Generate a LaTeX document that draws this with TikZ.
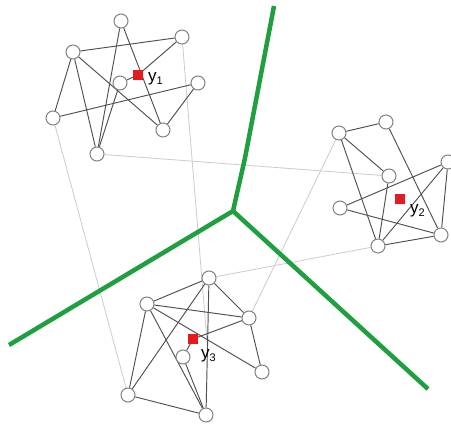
\documentclass[tikz,border=0pt]{standalone}
\usepackage{fontspec}
\setmainfont{Liberation Sans}
\pgfdeclarelayer{bg}
\pgfsetlayers{bg,main}
\definecolor{vgreen}{RGB}{30,160,65}
\definecolor{edgegray}{RGB}{80,80,80}
\definecolor{nodegray}{RGB}{130,130,130}
\definecolor{faintgray}{RGB}{205,205,205}
\definecolor{cred}{RGB}{230,25,30}
\tikzset{
  vert/.style={circle,draw=nodegray,fill=white,line width=1pt,minimum size=14pt,inner sep=0pt},
  cent/.style={rectangle,fill=cred,minimum size=10pt,inner sep=0pt},
  lab/.style={inner sep=0pt,font=\fontsize{17}{17}\selectfont},
  edge/.style={draw=edgegray,line width=0.95pt},
  faint/.style={draw=faintgray,line width=0.85pt},
  border/.style={draw=vgreen,line width=4.5pt,line join=round}
}
\newcommand{\ylab}[1]{y\raisebox{-2.5pt}{\fontsize{11}{11}\selectfont #1}}
\begin{document}
\begin{tikzpicture}[x=1pt,y=-1pt]
\useasboundingbox (0,0) rectangle (451,426);
% cluster 1
\node[vert] (a1) at (121,21) {};
\node[vert] (a2) at (182,37) {};
\node[vert] (a3) at (73,52) {};
\node[vert] (a4) at (120,83) {};
\node[vert] (a5) at (198,83) {};
\node[vert] (a6) at (53,118) {};
\node[vert] (a7) at (163,130) {};
\node[vert] (a8) at (97,154) {};
\node[cent] (y1) at (138,75) {};
\node[lab,anchor=west] (l1) at (148,79) {\ylab{1}};
% cluster 2
\node[vert] (b1) at (339,133) {};
\node[vert] (b2) at (386,122) {};
\node[vert] (b3) at (448,162) {};
\node[vert] (b4) at (389,176) {};
\node[vert] (b5) at (340,208) {};
\node[vert] (b6) at (441,235) {};
\node[vert] (b7) at (378,246) {};
\node[cent] (y2) at (400,199) {};
\node[lab,anchor=west] (l2) at (410,211) {\ylab{2}};
% cluster 3
\node[vert] (c1) at (209,278) {};
\node[vert] (c2) at (147,304) {};
\node[vert] (c3) at (249,318) {};
\node[vert] (c4) at (183,357) {};
\node[vert] (c5) at (262,372) {};
\node[vert] (c6) at (128,395) {};
\node[vert] (c7) at (206,415) {};
\node[cent] (y3) at (193,339) {};
\node[lab,anchor=west] (l3) at (201,356) {\ylab{3}};
\coordinate (j3) at (207,341);
% green borders
\coordinate (g0) at (233,211);
\coordinate (gt) at (274,6);
\coordinate (gtm) at (245,158);
\coordinate (gl) at (9,345);
\coordinate (gr) at (428,389);
\begin{pgfonlayer}{bg}
  \draw[faint] (a6) -- (c6);
  \draw[faint] (a2) -- (j3);
  \draw[faint] (a8) -- (b4);
  \draw[faint] (b1) -- (c3);
  \draw[faint] (b7) -- (c1);
  \draw[border] (gt) -- (gtm) -- (g0) -- (gl);
  \draw[border] (g0) -- (gr);
  % cluster 1 edges
  \draw[edge] (a3) -- (a2);
  \draw[edge] (a1) -- (a8);
  \draw[edge] (a1) -- (a7);
  \draw[edge] (a2) -- (y1.center) -- (a4);
  \draw[edge] (a3) -- (a6);
  \draw[edge] (a3) -- (a8);
  \draw[edge] (a3) -- (a7);
  \draw[edge] (a6) -- (a5);
  \draw[edge] (a5) -- (a7);
  \draw[edge] (a4) -- (a8);
  % cluster 2 edges
  \draw[edge] (b1) -- (b2);
  \draw[edge] (b1) -- (b4);
  \draw[edge] (b1) -- (b7);
  \draw[edge] (b2) -- (b6);
  \draw[edge] (b3) -- (b5);
  \draw[edge] (b3) -- (b7);
  \draw[edge] (b3) -- (b6);
  \draw[edge] (b5) -- (b6);
  \draw[edge] (b7) -- (b6);
  \draw[edge] (b4) -- (b7);
  % cluster 3 edges
  \draw[edge] (c1) -- (c2);
  \draw[edge] (c1) -- (c3);
  \draw[edge] (c1) -- (c6);
  \draw[edge] (c1) -- (c7);
  \draw[edge] (c2) -- (c3);
  \draw[edge] (c2) -- (c6);
  \draw[edge] (c2) -- (c5);
  \draw[edge] (c2) -- (c7);
  \draw[edge] (c3) -- (c5);
  \draw[edge] (c3) -- (y3.center) -- (c4);
  \draw[edge] (c4) -- (c7);
  \draw[edge] (c6) -- (c7);
\end{pgfonlayer}
\end{tikzpicture}
\end{document}
